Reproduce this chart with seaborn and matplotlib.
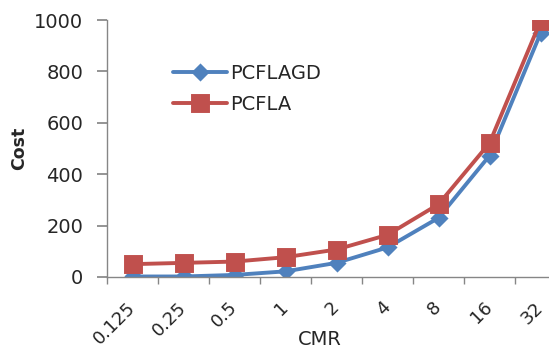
import matplotlib
matplotlib.use("Agg")
import matplotlib.pyplot as plt
import seaborn as sns
import pandas as pd

cmr = ["0.125", "0.25", "0.5", "1", "2", "4", "8", "16", "32"]
pcflagd = [2, 2, 8, 22, 55, 115, 230, 472, 948]
pcfla = [50, 55, 60, 77, 107, 164, 283, 521, 995]

df = pd.DataFrame({
    "CMR": cmr * 2,
    "Cost": pcflagd + pcfla,
    "Series": ["PCFLAGD"] * len(cmr) + ["PCFLA"] * len(cmr),
})

sns.set_theme(style="white")
plt.rcParams["font.family"] = ["DejaVu Sans"]

fig = plt.figure(figsize=(5.49, 3.49), dpi=100)
ax = fig.add_axes([107/549, 1-277/349, (566-107)/549, (277-20)/349])

palette = {"PCFLAGD": "#4F81BD", "PCFLA": "#C0504D"}
sns.pointplot(data=df, x="CMR", y="Cost", hue="Series", order=cmr,
              hue_order=["PCFLAGD", "PCFLA"], palette=palette,
              markers=["D", "s"], linestyles=["-", "-"], ax=ax,
              markersize=7, linewidth=2.8)
for l in ax.lines:
    if l.get_marker() == "s":
        l.set_markersize(11.5)

ax.set_xlim(-0.5, 8.5)
ax.set_ylim(0, 1000)
ax.set_yticks([0, 200, 400, 600, 800, 1000])
ax.set_xticks(range(len(cmr)))
ax.set_xticklabels(cmr, fontsize=13)
ax.tick_params(axis="y", labelsize=14, length=7, color="#868686", pad=10,
               direction="out", left=True)
ax.tick_params(axis="x", which="major", length=0, pad=20)
ax.set_xticks([i - 0.5 for i in range(len(cmr) + 1)], minor=True)
ax.tick_params(axis="x", which="minor", length=5, color="#868686",
               direction="out", bottom=True)
for t in ax.get_xticklabels():
    t.set_rotation(45)
    t.set_ha("right")
    t.set_va("center")
    t.set_rotation_mode("anchor")

for s in ["top", "right"]:
    ax.spines[s].set_visible(False)
for s in ["left", "bottom"]:
    ax.spines[s].set_color("#868686")
    ax.spines[s].set_linewidth(1)

ax.set_ylabel("Cost", fontsize=12.5, fontweight="bold", va="center")
ax.yaxis.set_label_coords(-0.192, 0.5)
ax.set_xlabel("CMR", fontsize=14, va="center")
ax.xaxis.set_label_coords(0.464, -0.245)

ax.legend(loc="center left", bbox_to_anchor=(0.1438, 0.7315), frameon=False,
          fontsize=14, handlelength=2.8, labelspacing=0.6, handletextpad=0.15,
          borderpad=0, borderaxespad=0)

fig.savefig("out.png", dpi=100)
